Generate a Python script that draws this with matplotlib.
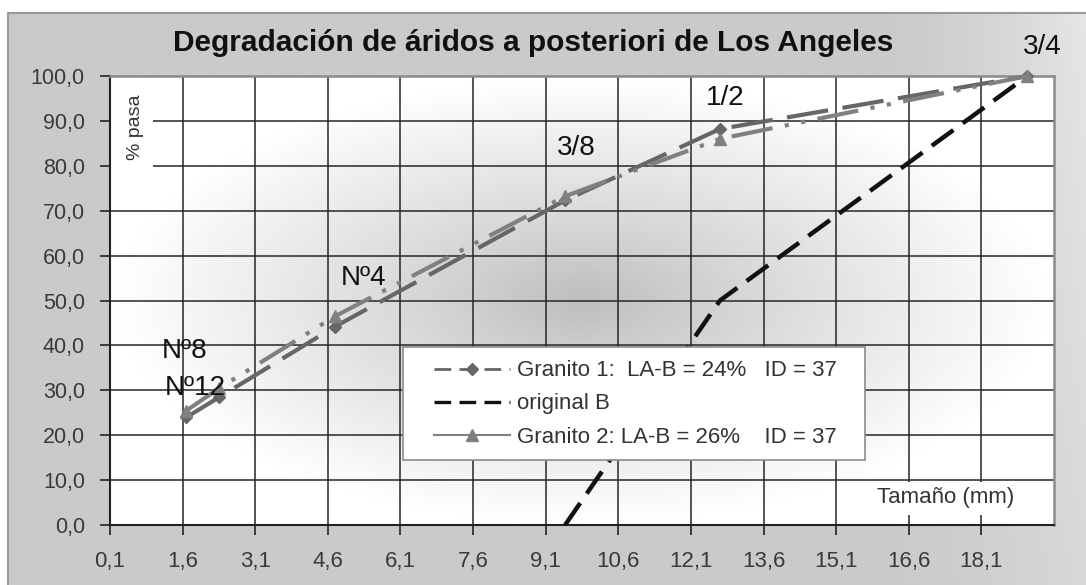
import numpy as np
import matplotlib
matplotlib.use("Agg")
import matplotlib.pyplot as plt
from matplotlib.patches import Rectangle
from matplotlib.lines import Line2D

plt.rcParams['font.family'] = ['Liberation Sans', 'DejaVu Sans']

# --- DATA ---
sizes_mm = [1.68, 2.36, 4.75, 9.5, 12.7, 19.05]      # Nº12, Nº8, Nº4, 3/8, 1/2, 3/4
granito1 = [24.0, 28.5, 44.2, 72.3, 88.2, 100.0]
granito2 = [25.5, 30.5, 46.5, 73.2, 86.0, 100.0]
sizes_b = [9.5, 12.7, 19.05]
original_b = [0.0, 50.0, 100.0]

x_ticks = [0.1, 1.6, 3.1, 4.6, 6.1, 7.6, 9.1, 10.6, 12.1, 13.6, 15.1, 16.6, 18.1]
x_ticklabels = ['0,1', '1,6', '3,1', '4,6', '6,1', '7,6', '9,1', '10,6', '12,1',
                '13,6', '15,1', '16,6', '18,1']
y_ticks = [0, 10, 20, 30, 40, 50, 60, 70, 80, 90, 100]
y_ticklabels = ['0,0', '10,0', '20,0', '30,0', '40,0', '50,0', '60,0', '70,0',
                '80,0', '90,0', '100,0']

sieve_labels = ['Nº8', 'Nº12', 'Nº4', '3/8', '1/2', '3/4']
sieve_label_pos = [(1.63, 38.8), (1.86, 30.5), (5.33, 55.0), (9.73, 84.0),
                   (12.8, 95.1), (19.36, 106.5)]

legend_labels = ['Granito 1:  LA-B = 24%   ID = 37',
                 'original B',
                 'Granito 2: LA-B = 26%    ID = 37']

W, H = 1086, 585
fig = plt.figure(figsize=(W / 100, H / 100), dpi=100, facecolor='white')

# --- chart area background (gray, lighter towards the right) ---
bg = fig.add_axes([0, 0, 1, 1], zorder=-10)
bg.set_xlim(0, 1)
bg.set_ylim(0, 1)
bg.axis('off')
u = np.linspace(0, 1, 400)
v = np.linspace(0, 1, 200)[:, None]
shade = 0.79 + 0.11 * np.clip((u - 0.80) / 0.20, 0, 1) ** 1.5 * (0.5 + 0.5 * v)
shade = shade * np.ones_like(v)
bg.imshow(shade, extent=(8 / W, 1, 0, 1 - 13 / H), origin='lower', cmap='gray',
          vmin=0, vmax=1, aspect='auto', interpolation='bilinear')
bg.plot([8 / W, 8 / W, 1], [0, 1 - 13 / H, 1 - 13 / H], color='#9a9a9a', lw=1.5)

# --- plot area ---
left, right, top, bottom = 110, 1054, 76, 525
ax = fig.add_axes([left / W, 1 - bottom / H, (right - left) / W, (bottom - top) / H])

# radial gradient inside the plot area
gx = np.linspace(-1, 1, 300)
gy = np.linspace(-1, 1, 200)[:, None]
r = np.clip(np.sqrt((gx / 1.0) ** 2 + (gy / 1.0) ** 2) / 1.0, 0, 1)
grad = 0.74 + 0.26 * r ** 0.9
ax.imshow(grad, extent=(0, 1, 0, 1), transform=ax.transAxes, cmap='gray',
          vmin=0, vmax=1, aspect='auto', interpolation='bilinear', zorder=0)

ax.set_xlim(0.1, 19.6)
ax.set_ylim(0, 100)
ax.set_xticks(x_ticks)
ax.set_xticklabels(x_ticklabels)
ax.set_yticks(y_ticks)
ax.set_yticklabels(y_ticklabels)
ax.tick_params(axis='both', direction='out', length=7, width=1.2, color='#222222',
               labelcolor='#3a3a3a')
ax.tick_params(axis='y', pad=11, labelsize=15.5)
ax.tick_params(axis='x', pad=12, labelsize=16)
ax.grid(True, color='#262626', lw=1.1, zorder=0.5)
ax.set_axisbelow(True)

for side in ['left', 'bottom']:
    ax.spines[side].set_color('#222222')
    ax.spines[side].set_linewidth(1.5)
for side in ['top', 'right']:
    ax.spines[side].set_color('#8a8a8a')
    ax.spines[side].set_linewidth(1.8)

# white boxes behind the axis titles
ax.add_patch(Rectangle((0, (bottom - 172) / (bottom - top)), (153 - left) / (right - left),
                       1 - (bottom - 172) / (bottom - top), transform=ax.transAxes,
                       facecolor='white', edgecolor='none', zorder=1))
ax.text((135 - left) / (right - left), (bottom - 127) / (bottom - top), '% pasa',
        transform=ax.transAxes, rotation=90, ha='center', va='center',
        fontsize=14, color='#333333', zorder=3)
ax.add_patch(Rectangle(((863 - left) / (right - left), (bottom - 515) / (bottom - top)),
                       (1035 - 863) / (right - left), (515 - 482) / (bottom - top),
                       transform=ax.transAxes, facecolor='white', edgecolor='none', zorder=1))
ax.text((946 - left) / (right - left), (bottom - 498) / (bottom - top), 'Tamaño (mm)',
        transform=ax.transAxes, ha='center', va='center', fontsize=16,
        color='#333333', zorder=3)

# --- series ---
g1_style = dict(color='#666666', lw=3.0, dashes=(10, 3.5), marker='D', markersize=6,
                clip_on=False, zorder=4)
g2_style = dict(color='#808080', lw=3.0, dashes=(10, 3, 1, 3, 1, 3), marker='^',
                markersize=8, clip_on=False, zorder=4)
b_style = dict(color='#111111', lw=3.2, dashes=(6, 2.6), clip_on=False, zorder=3)

ax.plot(sizes_b, original_b, **b_style)
ax.plot(sizes_mm, granito1, **g1_style)
ax.plot(sizes_mm, granito2, **g2_style)

for lab, (tx, ty) in zip(sieve_labels, sieve_label_pos):
    ax.text(tx, ty, lab, ha='center', va='center', fontsize=20, color='#111111',
            clip_on=False, zorder=5)

# --- title ---
fig.text(533 / W, 1 - 43 / H, 'Degradación de áridos a posteriori de Los Angeles',
         ha='center', va='center', fontsize=21.5, fontweight='bold', color='#111111')

# --- legend (manual box + frameless legend) ---
fig.patches.append(Rectangle((403 / W, 1 - 460 / H), (865 - 403) / W, (460 - 347) / H,
                             transform=fig.transFigure, facecolor='white',
                             edgecolor='#8c8c8c', lw=1.2, zorder=6))
handles = [Line2D([0], [0], color='#666666', lw=2.0, dashes=(6, 3), marker='D', markersize=6),
           Line2D([0], [0], color='#111111', lw=2.4, dashes=(5, 2.5)),
           Line2D([0], [0], color='#808080', lw=1.5, marker='^', markersize=8)]
leg = fig.legend(handles, legend_labels, loc='center left',
                 bbox_to_anchor=(434 / W, 1 - 404 / H), frameon=False, fontsize=16,
                 handlelength=3.4, handletextpad=0.35, labelspacing=0.55,
                 borderpad=0, borderaxespad=0)
leg.set_zorder(7)
for t in leg.get_texts():
    t.set_color('#333333')

fig.savefig('out.png', dpi=100, facecolor='white')
